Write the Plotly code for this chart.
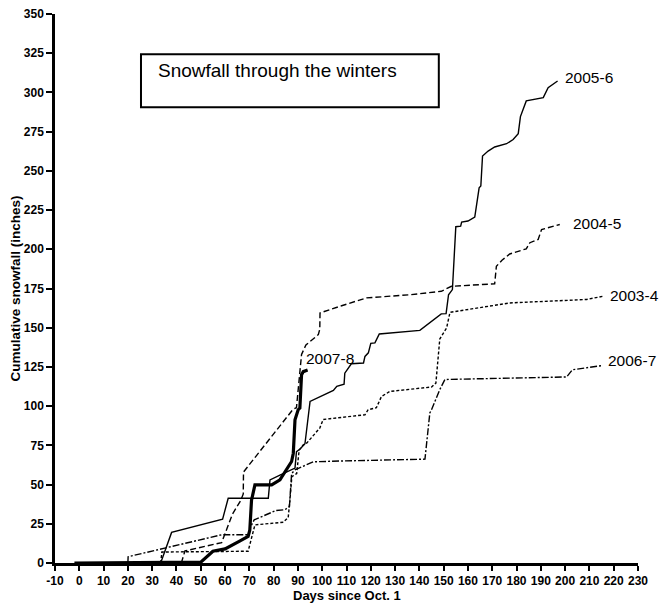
import plotly.graph_objects as go

# Days since Oct. 1 and cumulative snowfall (inches) for each winter
days_2003_4 = [33.5, 34, 69.5, 71, 72.3, 84, 86, 86.7, 87.5, 89.5, 90.5, 92.2, 93.6, 99, 100.4, 103.2, 117.6, 118.9, 122.3, 124.4, 127.9, 145, 146.8, 148.4, 151.2, 152.6, 177.2, 208.8, 215.5]
snow_2003_4 = [0, 7, 7.5, 17, 24.3, 26, 29, 40, 55, 57, 72, 75.3, 76.4, 86, 91.5, 92, 94.5, 97.7, 99, 106.2, 109.4, 112.2, 114.7, 142.8, 149.8, 159.8, 165.8, 168, 170]

days_2004_5 = [42, 43.5, 58.6, 63, 66.5, 67.5, 67.6, 88, 89.4, 90.8, 91.5, 93.3, 98.4, 99, 99.1, 108, 118.2, 136, 149, 153.2, 171, 171.7, 174, 177.2, 184, 185.5, 188.9, 190.3, 197.8]
snow_2004_5 = [0, 7.7, 13, 31, 40, 44, 58, 98, 99, 121, 133, 139, 145.6, 149, 159.4, 164, 169, 171, 173.2, 176.4, 178, 189.2, 193, 197, 200.3, 204.2, 206.3, 212.6, 215.8]

days_2005_6 = [33.5, 38, 59, 61.3, 77.8, 78.5, 82.6, 88.8, 89.4, 90.8, 92.9, 95, 104.6, 106, 109, 109.3, 112, 117, 117.6, 119, 120, 121.7, 123.5, 140.2, 149, 151, 152, 153.6, 155, 157, 157.4, 160, 162.8, 164.6, 165.3, 166, 168.3, 171, 175.9, 178.6, 180.7, 181.6, 184, 191, 193, 196.9]
snow_2005_6 = [0, 19.5, 28, 41.3, 41.3, 53, 56, 60.5, 71, 72.5, 76, 103, 110, 112.6, 114, 121, 127, 127.5, 131.7, 134, 140, 140.3, 146, 148.3, 158.8, 159, 171, 174.3, 214.4, 214.8, 217.3, 218, 220.5, 239.2, 240.3, 259.5, 262.6, 265.2, 267.3, 270, 273.7, 284.6, 294.6, 296.7, 303, 307.3]

days_2006_7 = [20, 20.1, 58.6, 69.5, 70.5, 72, 81, 84.7, 86.5, 87, 87.4, 88.8, 96.3, 107, 142.3, 144.3, 145, 148.4, 150.5, 200.6, 203, 215]
snow_2006_7 = [0, 4, 18, 18, 23, 27.5, 33.5, 34, 36, 52, 57, 59.4, 64.5, 65, 66.2, 95.6, 97.7, 110.5, 117, 118.6, 123.2, 125.8]

days_2007_8 = [-2, 50, 55, 60, 66, 69.5, 70.2, 70.9, 72.3, 79.2, 82.6, 87.4, 88.1, 88.8, 90.1, 90.8, 91.5, 92.2, 94]
snow_2007_8 = [0, 0.5, 7.5, 9, 14, 17, 21, 40, 49.8, 49.8, 53, 64.7, 70, 91.3, 97.7, 98.8, 120, 122, 123]

series = [
    ("2003-4", days_2003_4, snow_2003_4, "3px,2px", 1.4),
    ("2004-5", days_2004_5, snow_2004_5, "6px,3px", 1.4),
    ("2005-6", days_2005_6, snow_2005_6, "solid", 1.4),
    ("2006-7", days_2006_7, snow_2006_7, "7px,2px,2px,2px", 1.4),
    ("2007-8", days_2007_8, snow_2007_8, "solid", 3.2),
]

x_ticks = list(range(-10, 231, 10))
y_ticks = list(range(0, 351, 25))

FONT = "Liberation Sans, Arial, sans-serif"

fig = go.Figure()
for name, xs, ys, dash, w in series:
    fig.add_trace(go.Scatter(x=xs, y=ys, mode="lines", name=name,
                             line=dict(color="black", width=w, dash=dash),
                             showlegend=False, hoverinfo="skip"))

tickfont = dict(family=FONT, size=12, color="black")
fig.update_xaxes(range=[-10, 230], tickvals=x_ticks,
                 ticktext=["<b>%d</b>" % t for t in x_ticks],
                 showline=True, linecolor="black", linewidth=2.5, ticks="outside",
                 ticklen=5, tickwidth=2, tickcolor="black", showgrid=False, zeroline=False,
                 tickfont=tickfont, automargin=False)
fig.update_yaxes(range=[0, 350], tickvals=y_ticks,
                 ticktext=["<b>%d</b>" % t for t in y_ticks],
                 showline=True, linecolor="black", linewidth=2.5, ticks="outside",
                 ticklen=6, tickwidth=2, tickcolor="black", showgrid=False, zeroline=False,
                 tickfont=tickfont, automargin=False)

# Title box
fig.add_shape(type="rect", xref="x", yref="y", x0=25.4, x1=148, y0=290.5, y1=324.4,
              line=dict(color="black", width=2), fillcolor="white")
fig.add_annotation(x=31.5, y=314, xref="x", yref="y", text="Snowfall through the winters",
                   showarrow=False, xanchor="left", yanchor="middle",
                   font=dict(family=FONT, size=19, color="black"))

labelfont = dict(family=FONT, size=15.5, color="black")
labels = [("2005-6", 199.3, 309.5), ("2004-5", 202.3, 216.3), ("2003-4", 217.8, 170.4),
          ("2006-7", 216.8, 128.9), ("2007-8", 92.6, 130.3)]
for txt, lx, ly in labels:
    fig.add_annotation(x=lx, y=ly, xref="x", yref="y", text=txt, showarrow=False,
                       xanchor="left", yanchor="middle", font=labelfont)

axtitle = dict(family=FONT, size=13, color="black")
fig.add_annotation(x=0.5, y=-0.059, xref="paper", yref="paper", text="<b>Days since Oct. 1</b>",
                   showarrow=False, xanchor="center", yanchor="middle", font=axtitle)
fig.add_annotation(x=-0.067, y=0.5, xref="paper", yref="paper",
                   text="<b>Cumulative snowfall (inches)</b>", textangle=-90,
                   showarrow=False, xanchor="center", yanchor="middle",
                   font=dict(family=FONT, size=13.5, color="black"))

fig.update_layout(width=659, height=603, margin=dict(l=55, r=21, t=14, b=40),
                  plot_bgcolor="white", paper_bgcolor="white", hovermode=False,
                  font=dict(family=FONT, color="black"))

fig.write_html("out.html", config={"displayModeBar": False},
               post_script="document.body.style.margin='0px';document.body.style.padding='0px';")
